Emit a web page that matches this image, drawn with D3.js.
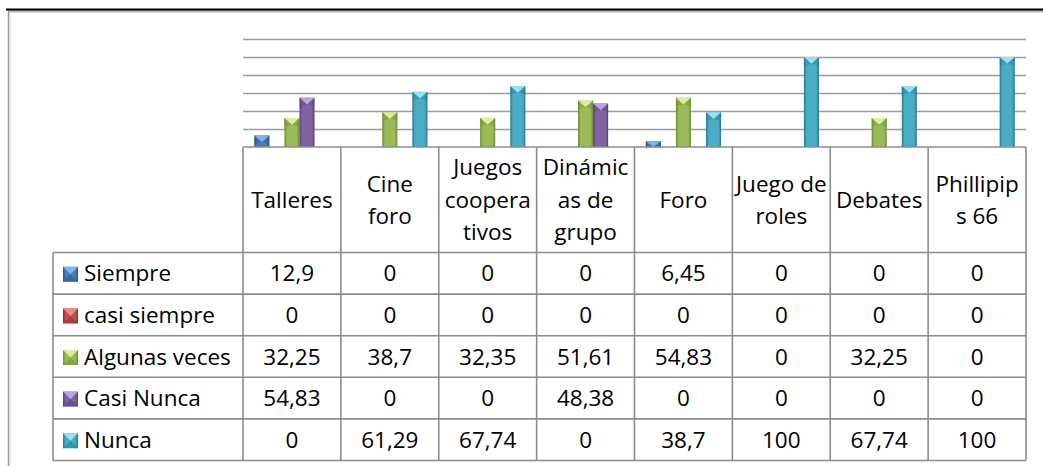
<!DOCTYPE html>
<html>
<head>
<meta charset="utf-8">
<script src="https://cdn.jsdelivr.net/npm/d3@7/dist/d3.min.js"></script>
<style>
  html, body { margin: 0; padding: 0; background: #fff; }
  svg { display: block; }
  text { font-family: "Open Sans", Lato, sans-serif; fill: #000; font-weight: 400; }
</style>
</head>
<body>
<svg id="chart" width="1043" height="466"></svg>
<script>
// ---- data ----
const categories = ["Talleres", "Cine foro", "Juegos cooperativos", "Dinámicas de grupo", "Foro", "Juego de roles", "Debates", "Phillipips 66"];
const headerLines = [["Talleres"], ["Cine", "foro"], ["Juegos", "coopera", "tivos"], ["Dinámic", "as de", "grupo"], ["Foro"], ["Juego de", "roles"], ["Debates"], ["Phillipip", "s 66"]];
const seriesNames = ["Siempre", "casi siempre", "Algunas veces", "Casi Nunca", "Nunca"];
const siempre      = [12.9, 0, 0, 0, 6.45, 0, 0, 0];
const casiSiempre  = [0, 0, 0, 0, 0, 0, 0, 0];
const algunasVeces = [32.25, 38.7, 32.35, 51.61, 54.83, 0, 32.25, 0];
const casiNunca    = [54.83, 0, 0, 48.38, 0, 0, 0, 0];
const nunca        = [0, 61.29, 67.74, 0, 38.7, 100, 67.74, 100];
const yTicks = [0, 20, 40, 60, 80, 100, 120];

const seriesValues = [siempre, casiSiempre, algunasVeces, casiNunca, nunca];
const colors = [
  {base: "#4a7ebb", dark: "#2c5282", light: "#79b4f0"},
  {base: "#c0504d", dark: "#8a2e2c", light: "#ee8a87"},
  {base: "#9bbb59", dark: "#6a8a32", light: "#dcee9e"},
  {base: "#8064a2", dark: "#54407a", light: "#bda4e0"},
  {base: "#4bacc6", dark: "#24758c", light: "#8fe4f5"}
];

// ---- layout ----
const plotL = 243, plotR = 1026;
const baseY = 147, topY = 39;
const headerBottom = 252.5;
const rowH = 41.6;
const legendL = 53;
const fs = 22.5;

const svg = d3.select("#chart");
const defs = svg.append("defs");
colors.forEach((c, i) => {
  const g = defs.append("linearGradient").attr("id", "g" + i).attr("x1", "0").attr("x2", "1").attr("y1", "0").attr("y2", "0");
  g.append("stop").attr("offset", "0%").attr("stop-color", c.dark);
  g.append("stop").attr("offset", "18%").attr("stop-color", c.base);
  g.append("stop").attr("offset", "82%").attr("stop-color", c.base);
  g.append("stop").attr("offset", "100%").attr("stop-color", c.dark);
});

const x = d3.scaleBand().domain(categories).range([plotL, plotR]).paddingInner(0).paddingOuter(0);
const xs = d3.scaleBand().domain(seriesNames).range([0, x.bandwidth()]).paddingInner(0).paddingOuter(0.75);
const y = d3.scaleLinear().domain([0, 120]).range([baseY, topY]);

// frame
svg.append("path").attr("d", `M8.5,466 V11 H1043`).attr("fill", "none").attr("stroke", "#9a9a9a").attr("stroke-width", 1.5);
svg.append("path").attr("d", `M10,466 V12.5 H1043`).attr("fill", "none").attr("stroke", "#dcdcdc").attr("stroke-width", 1);
svg.append("line").attr("x1", 6).attr("x2", 1043).attr("y1", 9.5).attr("y2", 9.5).attr("stroke", "#000").attr("stroke-width", 2);

// gridlines
const grid = svg.append("g").attr("transform", `translate(${plotL},0)`)
  .call(d3.axisLeft(y).tickValues(yTicks.filter(t => t > 0)).tickSize(-(plotR - plotL)).tickFormat(""));
grid.select(".domain").remove();
grid.selectAll(".tick line").attr("stroke", "#9c9c9c").attr("stroke-width", 1.6);

// bars
function bevelBar(g, bx, by, w, h, i) {
  g.append("rect").attr("x", bx).attr("y", by).attr("width", w).attr("height", h).attr("fill", `url(#g${i})`);
  const d = Math.min(h, w * 0.45);
  g.append("path").attr("d", `M${bx},${by} L${bx + w},${by} L${bx + w / 2},${by + d} Z`)
    .attr("fill", colors[i].light);
  g.append("path").attr("d", `M${bx},${by} L${bx + w / 2},${by + d} L${bx},${by + d * 1.3} Z`)
    .attr("fill", colors[i].dark).attr("opacity", 0.35);
  g.append("path").attr("d", `M${bx + w},${by} L${bx + w / 2},${by + d} L${bx + w},${by + d * 1.3} Z`)
    .attr("fill", colors[i].dark).attr("opacity", 0.35);
}
const barsG = svg.append("g");
seriesValues.forEach((vals, i) => {
  vals.forEach((v, j) => {
    if (v <= 0) return;
    const bx = x(categories[j]) + xs(seriesNames[i]);
    bevelBar(barsG, bx, y(v), xs.bandwidth(), y(0) - y(v), i);
  });
});

// table
const lineC = "#8c8c8c", lw = 1.6;
const tbl = svg.append("g");
const colEdges = categories.map(c => x(c)).concat([plotR]);
const tableBottom = headerBottom + rowH * seriesNames.length;
colEdges.forEach(cx => {
  tbl.append("line").attr("x1", cx).attr("x2", cx).attr("y1", baseY).attr("y2", tableBottom).attr("stroke", lineC).attr("stroke-width", lw);
});
tbl.append("line").attr("x1", plotL).attr("x2", plotR).attr("y1", baseY).attr("y2", baseY).attr("stroke", lineC).attr("stroke-width", lw);
tbl.append("line").attr("x1", legendL).attr("x2", legendL).attr("y1", headerBottom).attr("y2", tableBottom).attr("stroke", lineC).attr("stroke-width", lw);
d3.range(seriesNames.length + 1).forEach(k => {
  const ry = headerBottom + rowH * k;
  tbl.append("line").attr("x1", legendL).attr("x2", plotR).attr("y1", ry).attr("y2", ry).attr("stroke", lineC).attr("stroke-width", lw);
});

// header labels
const lh = 32.5;
const capOff = fs * 0.36;
categories.forEach((c, j) => {
  const lines = headerLines[j];
  const cx = x(c) + x.bandwidth() / 2;
  const cy = (baseY + headerBottom) / 2;
  const first = cy - (lines.length - 1) * lh / 2;
  lines.forEach((ln, k) => {
    svg.append("text").attr("x", cx).attr("y", first + k * lh + capOff)
      .attr("text-anchor", "middle").attr("font-size", fs).text(ln);
  });
});

// rows
const fmt = v => String(v).replace(".", ",");
seriesNames.forEach((s, i) => {
  const cy = headerBottom + rowH * i + rowH / 2;
  const kx = 63, ks = 15, ky = cy - ks / 2 + 1;
  svg.append("rect").attr("x", kx).attr("y", ky).attr("width", ks).attr("height", ks).attr("fill", `url(#g${i})`);
  svg.append("path").attr("d", `M${kx},${ky} L${kx + ks},${ky} L${kx + ks / 2},${ky + ks / 2} Z`).attr("fill", colors[i].light);
  svg.append("path").attr("d", `M${kx},${ky + ks} L${kx + ks},${ky + ks} L${kx + ks / 2},${ky + ks / 2} Z`).attr("fill", colors[i].dark).attr("opacity", 0.5);
  svg.append("text").attr("x", 84).attr("y", cy + capOff).attr("font-size", fs).text(s);
  seriesValues[i].forEach((v, j) => {
    svg.append("text").attr("x", x(categories[j]) + x.bandwidth() / 2).attr("y", cy + capOff)
      .attr("text-anchor", "middle").attr("font-size", fs).text(fmt(v));
  });
});
</script>
</body>
</html>
